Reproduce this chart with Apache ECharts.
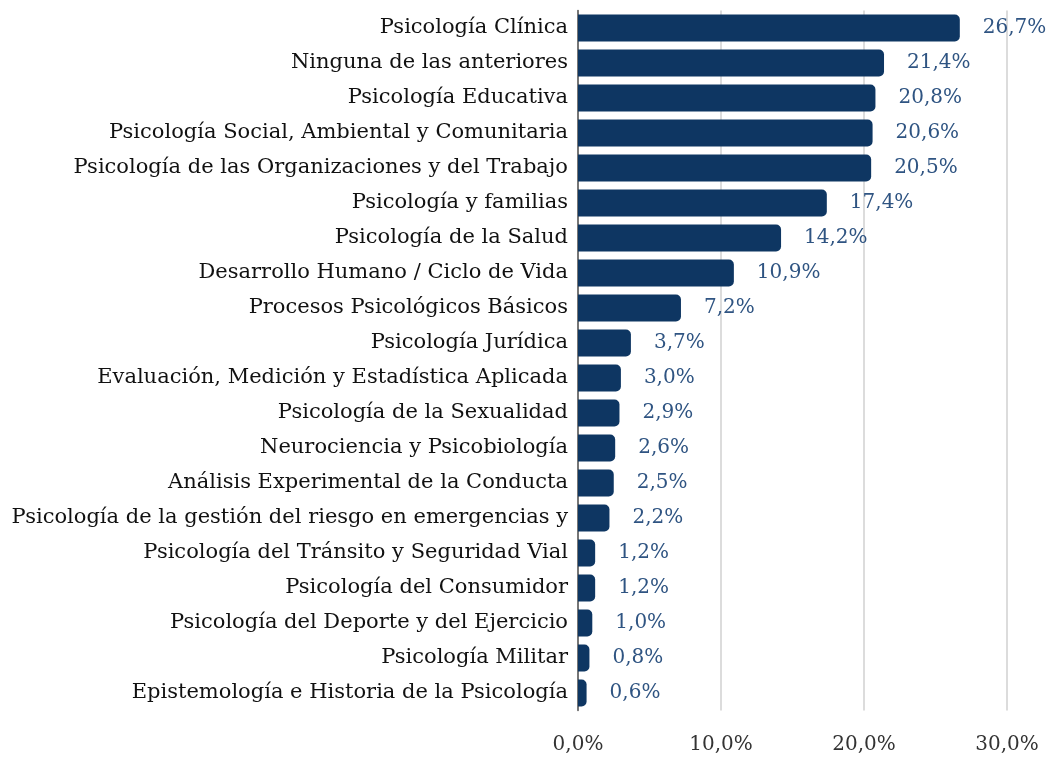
<!DOCTYPE html>
<html><head><meta charset="utf-8">
<script src="https://cdn.jsdelivr.net/npm/echarts@6/dist/echarts.min.js"></script>
<style>html,body{margin:0;padding:0;background:#fff}#c{width:1047px;height:757px}</style>
</head><body><div id="c"></div>
<script>
const categories = [
  "Psicología Clínica",
  "Ninguna de las anteriores",
  "Psicología Educativa",
  "Psicología Social, Ambiental y Comunitaria",
  "Psicología de las Organizaciones y del Trabajo",
  "Psicología y familias",
  "Psicología de la Salud",
  "Desarrollo Humano / Ciclo de Vida",
  "Procesos Psicológicos Básicos",
  "Psicología Jurídica",
  "Evaluación, Medición y Estadística Aplicada",
  "Psicología de la Sexualidad",
  "Neurociencia y Psicobiología",
  "Análisis Experimental de la Conducta",
  "Psicología de la gestión del riesgo en emergencias y",
  "Psicología del Tránsito y Seguridad Vial",
  "Psicología del Consumidor",
  "Psicología del Deporte y del Ejercicio",
  "Psicología Militar",
  "Epistemología e Historia de la Psicología"
];
const values = [26.7, 21.4, 20.8, 20.6, 20.5, 17.4, 14.2, 10.9, 7.2, 3.7, 3.0, 2.9, 2.6, 2.5, 2.2, 1.2, 1.2, 1.0, 0.8, 0.6];
const ticks = [0, 10, 20, 30];

const fmt = v => v.toFixed(1).replace('.', ',') + '%';
const chart = echarts.init(document.getElementById('c'));
chart.setOption({
  animation: false,
  grid: { left: 578, right: 40, top: 10.5, bottom: 46.5, containLabel: false },
  xAxis: {
    type: 'value', min: ticks[0], max: ticks[ticks.length - 1], interval: 10,
    axisLine: { show: false }, axisTick: { show: false },
    splitLine: { show: true, lineStyle: { color: '#d0d0d0', width: 1.5 } },
    axisLabel: { formatter: v => fmt(v), fontFamily: 'DejaVu Serif', fontSize: 20, color: '#333', margin: 24 }
  },
  yAxis: {
    type: 'category', data: categories, inverse: true,
    axisLine: { show: true, lineStyle: { color: '#555', width: 1.5 } },
    axisTick: { show: false },
    axisLabel: { fontFamily: 'DejaVu Serif', fontSize: 21, color: '#111', margin: 10 }
  },
  series: [{
    type: 'bar', data: values, barCategoryGap: '23%',
    itemStyle: { color: '#0e3662', borderRadius: [0, 5, 5, 0] },
    label: { show: true, position: 'right', distance: 23, formatter: p => fmt(p.value),
      fontFamily: 'DejaVu Serif', fontSize: 20, color: '#2f5482' }
  }]
});
</script></body></html>
